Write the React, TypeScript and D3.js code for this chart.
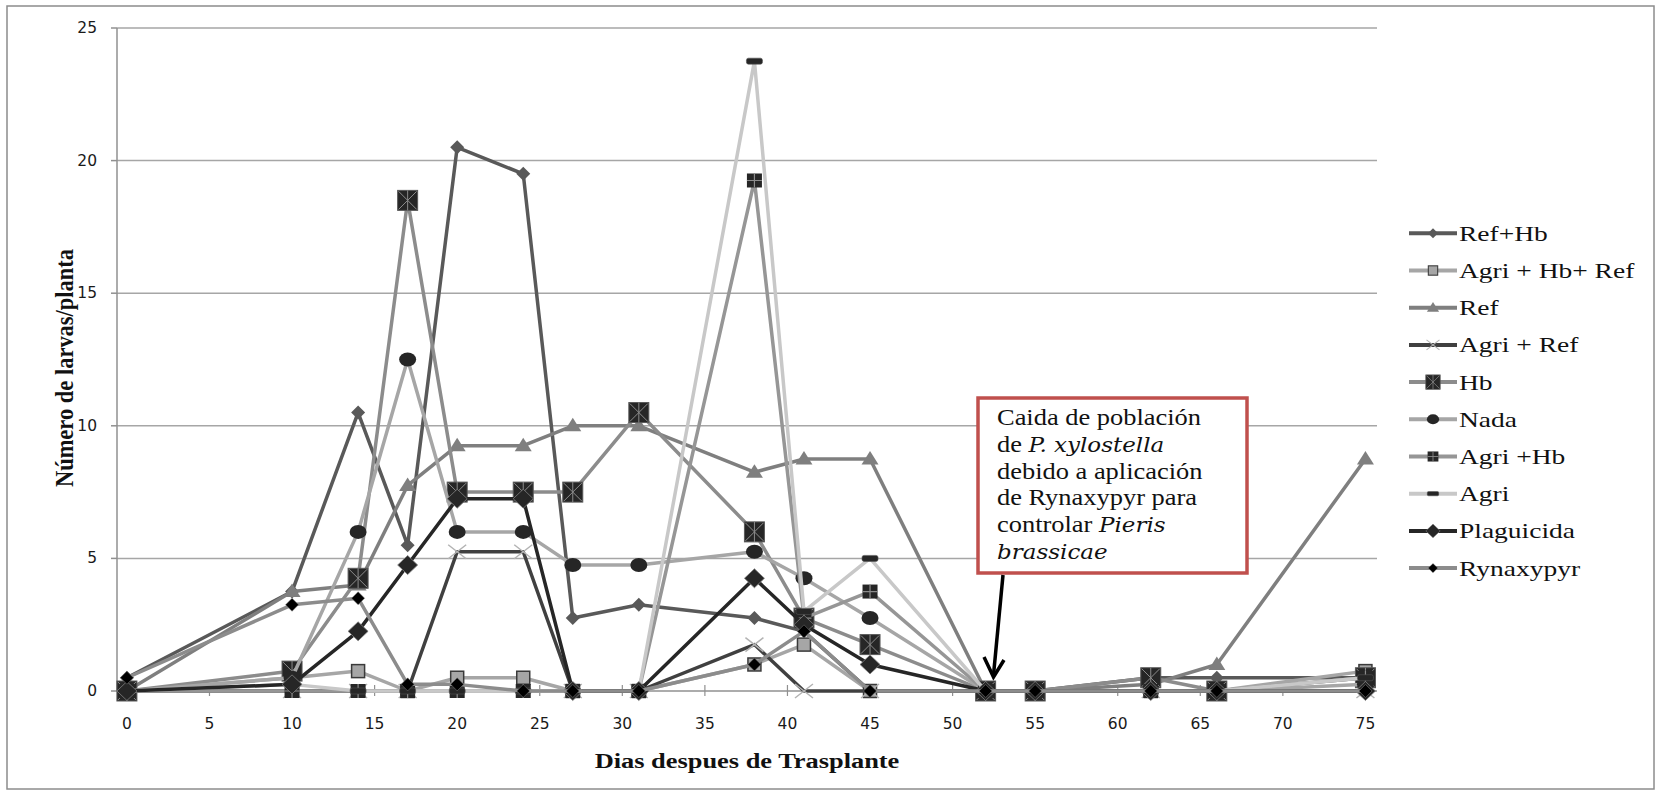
import React from "react";
import * as d3 from "d3";

const W = 1657;
const H = 795;

// days after transplant (x) and larvae per plant for each treatment
const days = [0, 10, 14, 17, 20, 24, 27, 31, 38, 41, 45, 52, 55, 62, 66, 75];
const seriesNames = ["Ref+Hb", "Agri + Hb+ Ref", "Ref", "Agri + Ref", "Hb", "Nada", "Agri +Hb", "Agri", "Plaguicida", "Rynaxypyr"];

const refHb = [0.5, 3.75, 10.5, 5.5, 20.5, 19.5, 2.75, 3.25, 2.75, 2.25, 0, 0, 0, 0.5, 0.5, 0.5];
const agriHbRef = [0, 0.5, 0.75, 0, 0.5, 0.5, 0, 0, 1, 1.75, 0, 0, 0, 0, 0, 0.75];
const ref = [0, 3.75, 4, 7.75, 9.25, 9.25, 10, 10, 8.25, 8.75, 8.75, 0, 0, 0.25, 1, 8.75];
const agriRef = [0, 0, 0, 0, 5.25, 5.25, 0, 0, 1.75, 0, 0, 0, 0, 0, 0, 0];
const hb = [0, 0.75, 4.25, 18.5, 7.5, 7.5, 7.5, 10.5, 6, 2.75, 1.75, 0, 0, 0.5, 0, 0.5];
const nada = [0, 0.5, 6, 12.5, 6, 6, 4.75, 4.75, 5.25, 4.25, 2.75, 0, 0, 0, 0, 0.25];
const agriHb = [0, 0, 0, 0, 0, 0, 0, 0, 19.25, 2.75, 3.75, 0, 0, 0, 0, 0.5];
const agri = [0, 0.25, 0, 0, 0, 0, 0, 0, 23.75, 3, 5, 0, 0, 0, 0, 0.5];
const plaguicida = [0, 0.25, 2.25, 4.75, 7.25, 7.25, 0, 0, 4.25, 2.5, 1, 0, 0, 0, 0, 0];
const rynaxypyr = [0.5, 3.25, 3.5, 0.25, 0.25, 0, 0, 0, 1, 2.25, 0, 0, 0, 0, 0, 0];

const seriesValues = [refHb, agriHbRef, ref, agriRef, hb, nada, agriHb, agri, plaguicida, rynaxypyr];

const xTicks = d3.range(0, 80, 5);
const yTicks = [0, 5, 10, 15, 20, 25];

const noteLines = [
  [["Caida de población", false]],
  [["de ", false], ["P. xylostella", true]],
  [["debido a aplicación", false]],
  [["de Rynaxypyr para", false]],
  [["controlar ", false], ["Pieris", true]],
  [["brassicae", true]],
] as [string, boolean][][];

// looks per series, same order as seriesNames
const looks = [
  { color: "#595959", marker: "diamond" },
  { color: "#a6a6a6", marker: "lightSquare" },
  { color: "#7f7f7f", marker: "triangle" },
  { color: "#404040", marker: "cross" },
  { color: "#8c8c8c", marker: "hbSquare" },
  { color: "#a6a6a6", marker: "circle" },
  { color: "#969696", marker: "plusSquare" },
  { color: "#c8c8c8", marker: "dash" },
  { color: "#262626", marker: "bigDiamond" },
  { color: "#8c8c8c", marker: "blackDiamond" },
];

const left = 117, right = 1377, top = 28, bottom = 691;
const x = d3.scaleLinear().domain([-0.6, 75.7]).range([left, right]);
const y = d3.scaleLinear().domain([0, 25]).range([bottom, top]);

const serif = "'Liberation Serif', 'Times New Roman', serif";
const serifItalic = "'DejaVu Serif', 'Liberation Serif', serif";
const sans = "'DejaVu Sans', Verdana, sans-serif";

function Marker({ kind }: { kind: string }) {
  switch (kind) {
    case "diamond":
      return <path d="M0,-7L7,0L0,7L-7,0Z" fill="#595959" />;
    case "lightSquare":
      return <rect x={-6.5} y={-6.5} width={13} height={13} fill="#a6a6a6" stroke="#3a3a3a" strokeWidth={1.5} />;
    case "triangle":
      return <path d="M0,-8L8.5,5.5L-8.5,5.5Z" fill="#7f7f7f" />;
    case "cross":
      return <path d="M-9,-7L9,7M-9,7L9,-7" stroke="#b3b3b3" strokeWidth={1.5} />;
    case "hbSquare":
      return (
        <g>
          <rect x={-10} y={-10} width={20} height={20} fill="#262626" stroke="#595959" strokeWidth={1} />
          <path d="M-9,-9L9,9M-9,9L9,-9M0,-10L0,10" stroke="#8c8c8c" strokeWidth={1} />
        </g>
      );
    case "circle":
      return <ellipse rx={8.5} ry={7} fill="#262626" />;
    case "plusSquare":
      return (
        <g>
          <rect x={-7.5} y={-7} width={15} height={14} fill="#262626" />
          <path d="M0,-7L0,7M-7.5,0L7.5,0" stroke="#8c8c8c" strokeWidth={1.2} />
        </g>
      );
    case "dash":
      return <rect x={-8} y={-3} width={16} height={6} rx={2} fill="#262626" stroke="#555" strokeWidth={0.6} />;
    case "bigDiamond":
      return <path d="M0,-9.5L10,0L0,9.5L-10,0Z" fill="#262626" stroke="#7f7f7f" strokeWidth={0.8} />;
    case "blackDiamond":
      return <path d="M0,-6.5L6.5,0L0,6.5L-6.5,0Z" fill="#000" stroke="#7f7f7f" strokeWidth={0.5} />;
    default:
      return null;
  }
}

export default function App() {
  const line = d3
    .line<number>()
    .x((_, i) => x(days[i]))
    .y((v) => y(v));

  return (
    <svg width={W} height={H} style={{ position: "absolute", left: 0, top: 0, background: "#fff" }}>
      <rect x={7} y={6} width={1647} height={783} fill="#fff" stroke="#8c8c8c" strokeWidth={1.5} />

      {/* grid */}
      {yTicks.filter((t) => t > 0).map((t) => (
        <line key={t} x1={left} x2={right} y1={y(t)} y2={y(t)} stroke="#a6a6a6" strokeWidth={1.5} />
      ))}
      {yTicks.map((t) => (
        <line key={"yt" + t} x1={left - 6} x2={left} y1={y(t)} y2={y(t)} stroke="#909090" strokeWidth={1.5} />
      ))}
      <line x1={left} x2={left} y1={top} y2={bottom} stroke="#909090" strokeWidth={1.5} />
      <line x1={left} x2={right} y1={bottom} y2={bottom} stroke="#909090" strokeWidth={1.5} />
      {xTicks.map((t) => (
        <line key={"xt" + t} x1={x(t)} x2={x(t)} y1={bottom - 6} y2={bottom + 5} stroke="#909090" strokeWidth={1.2} />
      ))}

      {/* tick labels */}
      <g fontFamily={sans} fontSize={15.5} fill="#1a1a1a">
        {yTicks.map((t) => (
          <text key={t} x={97} y={y(t)} textAnchor="end" dominantBaseline="central">
            {t}
          </text>
        ))}
        {xTicks.map((t) => (
          <text key={t} x={x(t)} y={729} textAnchor="middle">
            {t}
          </text>
        ))}
      </g>

      {/* series */}
      {seriesValues.map((vals, si) => (
        <g key={seriesNames[si]}>
          <path d={line(vals) || ""} fill="none" stroke={looks[si].color} strokeWidth={3.5} strokeLinejoin="round" />
          {vals.map((v, i) => (
            <g key={i} transform={`translate(${x(days[i])},${y(v)})`}>
              <Marker kind={looks[si].marker} />
            </g>
          ))}
        </g>
      ))}

      {/* annotation */}
      <rect x={978} y={398} width={269} height={175} fill="#fff" stroke="#c0504d" strokeWidth={3.5} />
      <g fontFamily={serif} fontSize={23} fill="#111">
        {noteLines.map((parts, li) => (
          <text key={li} transform={`translate(997,${425 + li * 26.8}) scale(1.15,1)`}>
            {parts.map(([s, it], pi) => (
              <tspan key={pi} fontStyle={it ? "italic" : "normal"} fontFamily={it ? serifItalic : serif} fontSize={it ? 20 : 23}>
                {s}
              </tspan>
            ))}
          </text>
        ))}
      </g>
      <path d="M1003,575L993.5,675" stroke="#000" strokeWidth={3.5} fill="none" />
      <path d="M984,657L993.5,677L1004,660" stroke="#000" strokeWidth={3.5} fill="none" strokeLinejoin="miter" />

      {/* axis titles */}
      <text
        transform="translate(747,768) scale(1.2,1)"
        textAnchor="middle"
        fontFamily={serif}
        fontWeight="bold"
        fontSize={22}
        fill="#111"
      >
        Dias despues de Trasplante
      </text>
      <text
        transform="translate(64,368) rotate(-90) scale(1,1.15)"
        textAnchor="middle"
        dominantBaseline="central"
        fontFamily={serif}
        fontWeight="bold"
        fontSize={22.5}
        fill="#111"
      >
        Número de larvas/planta
      </text>

      {/* legend */}
      {seriesNames.map((name, i) => {
        const ly = 233.3 + i * 37.2;
        return (
          <g key={name}>
            <line x1={1409} x2={1457} y1={ly} y2={ly} stroke={looks[i].color} strokeWidth={4} />
            <g transform={`translate(1433,${ly}) scale(0.72)`}>
              <Marker kind={looks[i].marker} />
            </g>
            <text
              transform={`translate(1459,${ly + 7.5}) scale(1.25,1)`}
              fontFamily={serif}
              fontSize={22}
              fill="#111"
            >
              {name}
            </text>
          </g>
        );
      })}
    </svg>
  );
}
